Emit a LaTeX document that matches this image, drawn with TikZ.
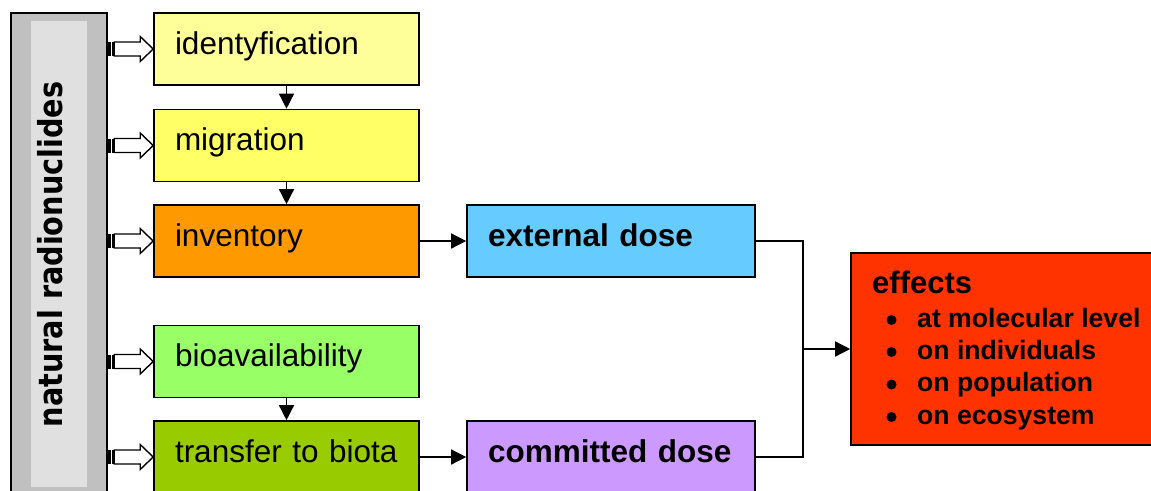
\documentclass[tikz,border=0pt]{standalone}
\usepackage{fontspec}
\setmainfont{Liberation Sans}
\newfontfamily\barfont{DejaVu Sans}
\usetikzlibrary{arrows.meta}
\definecolor{paleyellow}{HTML}{FFFF99}
\definecolor{lemon}{HTML}{FFFF66}
\definecolor{orangebox}{HTML}{FF9900}
\definecolor{lightgreen}{HTML}{99FF66}
\definecolor{olivegreen}{HTML}{99CC00}
\definecolor{skyblue}{HTML}{66CCFF}
\definecolor{lilac}{HTML}{CC99FF}
\definecolor{redbox}{HTML}{FF3300}
\definecolor{barout}{HTML}{C0C0C0}
\definecolor{barin}{HTML}{E0E0E0}

\begin{document}
\begin{tikzpicture}[x=1pt,y=-1pt,
  box/.style={draw,line width=1.6pt,minimum height=72pt,inner xsep=21pt,inner ysep=0pt,
    text width=223pt,align=left,text height=20pt,text depth=10pt,
    font=\fontsize{31.5}{36}\selectfont},
  dosebox/.style={box,text width=246pt,font=\bfseries\fontsize{31.5}{36}\selectfont},
  arr/.style={line width=1.4pt,-{Triangle[length=15pt,width=15pt]}},
  link/.style={line width=1.4pt},
  fatarrow/.style={draw,fill=white,line width=1.4pt},
  item/.style={anchor=base west,inner sep=0pt,font=\bfseries\fontsize{26.6}{32}\selectfont}]
\useasboundingbox (0,0) rectangle (1151,490);
% ---- side bar ----
\node[draw,fill=barout,line width=1.6pt,minimum width=96pt,minimum height=487pt] (bar) at (59,256.5) {};
\fill[barin] (31,21) rectangle (87,487);
\node[anchor=base,rotate=90,inner sep=0pt] (barlabel) at (62,254.5)
  {\scalebox{0.87}[1]{\barfont\bfseries\fontsize{33}{36}\selectfont natural radionuclides}};
% ---- left column ----
\node[box,fill=paleyellow] (ident) at (286.5,49) {identyfication};
\node[box,fill=lemon] (migr) at (286.5,145.5) {migration};
\node[box,fill=orangebox] (invent) at (286.5,241) {inventory};
\node[box,fill=lightgreen] (bioav) at (286.5,361.5) {bioavailability};
\node[box,fill=olivegreen] (transf) at (286.5,457) {transfer to biota};
\draw[arr] (ident) -- (migr);
\draw[arr] (migr) -- (invent);
\draw[arr] (bioav) -- (transf);
\foreach \n in {ident,migr,invent,bioav,transf} {
  \fill (bar.east |- \n.west) ++(0,-7) rectangle ++(3,14);
  \fill (bar.east |- \n.west) ++(4.5,-7) rectangle ++(3.5,14);
  \draw[fatarrow] (\n.west) -- ++(-13,-12.5) -- ++(0,5.5) -- ++(-26,0) -- ++(0,14)
    -- ++(26,0) -- ++(0,5.5) -- cycle;
}
% ---- doses ----
\node[dosebox,fill=skyblue] (extd) at (611,241) {external dose};
\node[dosebox,fill=lilac] (comd) at (611,457) {committed dose};
\draw[arr] (invent) -- (extd);
\draw[arr] (transf) -- (comd);
% ---- effects ----
\node[draw,fill=redbox,line width=1.6pt,minimum width=314pt,minimum height=192pt] (eff) at (1008,349) {};
\coordinate (jn) at (803,349);
\draw[link] (extd.east) -| (jn) |- (comd.east);
\draw[arr] (jn) -- (eff.west);
\node[anchor=base west,inner sep=0pt,font=\bfseries\fontsize{31}{36}\selectfont] (efft) at (872,293) {effects};
\foreach \i/\t/\y in {1/at molecular level/327,2/on individuals/359,3/on population/391.5,4/on ecosystem/424} {
  \node[item] (item\i) at (917,\y) {\t};
  \fill ([xshift=-25.5pt,yshift=7pt]item\i.base west) circle (5pt);
}
\end{tikzpicture}
\end{document}
